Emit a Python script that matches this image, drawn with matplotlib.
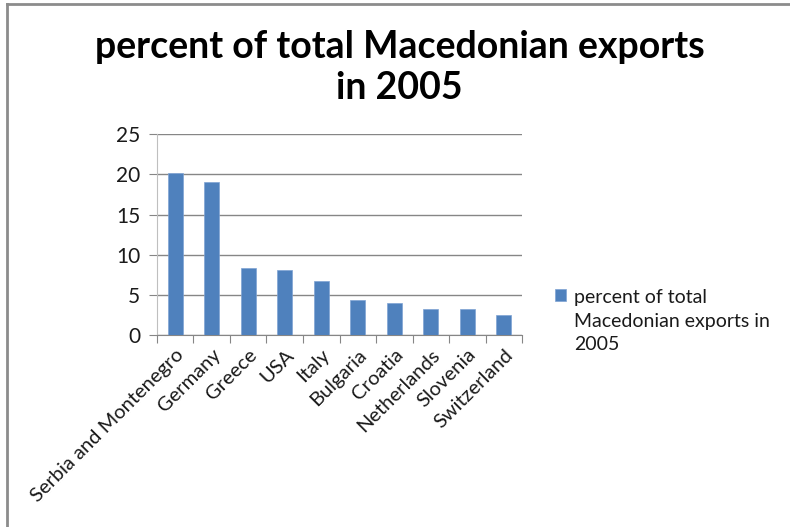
import matplotlib
matplotlib.use('Agg')
import matplotlib.pyplot as plt
from matplotlib.lines import Line2D
from matplotlib.offsetbox import HPacker
import numpy as np

countries = ['Serbia and Montenegro', 'Germany', 'Greece', 'USA', 'Italy',
             'Bulgaria', 'Croatia', 'Netherlands', 'Slovenia', 'Switzerland']
percent = [20.2, 19.1, 8.3, 8.05, 6.7, 4.3, 4.0, 3.25, 3.25, 2.5]
series_name = 'percent of total\nMacedonian exports in\n2005'
title = 'percent of total Macedonian exports\nin 2005'

plt.rcParams['font.family'] = ['Lato', 'DejaVu Sans']

fig = plt.figure(figsize=(7.9, 5.27), dpi=100)
ax = fig.add_axes([0.1987, 0.3643, 0.4621, 0.3809])

x = np.arange(len(countries))
ax.bar(x, percent, width=0.41, color='#4F81BD', edgecolor='#7FA3D3',
       linewidth=0.5, zorder=3, label=series_name)

ax.set_xlim(-0.5, len(countries) - 0.5)
ax.set_ylim(0, 25)
ax.set_yticks(np.arange(0, 26, 5))
ax.grid(axis='y', color='#868686', linewidth=1, zorder=0)

# category ticks between bars
ax.set_xticks(np.arange(-0.5, len(countries), 1))
ax.set_xticklabels([])
ax.set_xticks(x, minor=True)
ax.set_xticklabels(countries, minor=True, rotation=45, ha='right', va='top',
                   rotation_mode='anchor', fontsize=14.5, color='#1a1a1a')
ax.tick_params(axis='x', which='minor', length=0, pad=8)
ax.tick_params(axis='x', which='major', length=6, color='#868686', direction='out')
ax.tick_params(axis='y', length=6, color='#868686', labelsize=15,
               labelcolor='#1a1a1a', pad=6)

for side in ['top', 'right']:
    ax.spines[side].set_visible(False)
ax.spines['left'].set_color('#BFBFBF')
ax.spines['bottom'].set_color('#868686')

fig.text(0.506, 0.872, title, ha='center', va='center', fontsize=27,
         fontweight='bold', linespacing=1.25)

leg = fig.legend(loc='upper left', bbox_to_anchor=(0.681, 0.484),
                 frameon=False, fontsize=14, handlelength=0.55,
                 handleheight=0.55, handletextpad=0.4, labelspacing=0.3)
for p in leg.findobj(HPacker):
    p.align = 'top'
for t in leg.get_texts():
    t.set_linespacing(1.45)
    t.set_color('#1a1a1a')

# chart area frame (left and top edges)
fig.add_artist(Line2D([0.009, 0.009], [0, 0.992], color='#8C8C8C', linewidth=2,
                      transform=fig.transFigure))
fig.add_artist(Line2D([0.009, 1], [0.992, 0.992], color='#8C8C8C', linewidth=2,
                      transform=fig.transFigure))

fig.savefig('out.png', dpi=100)
